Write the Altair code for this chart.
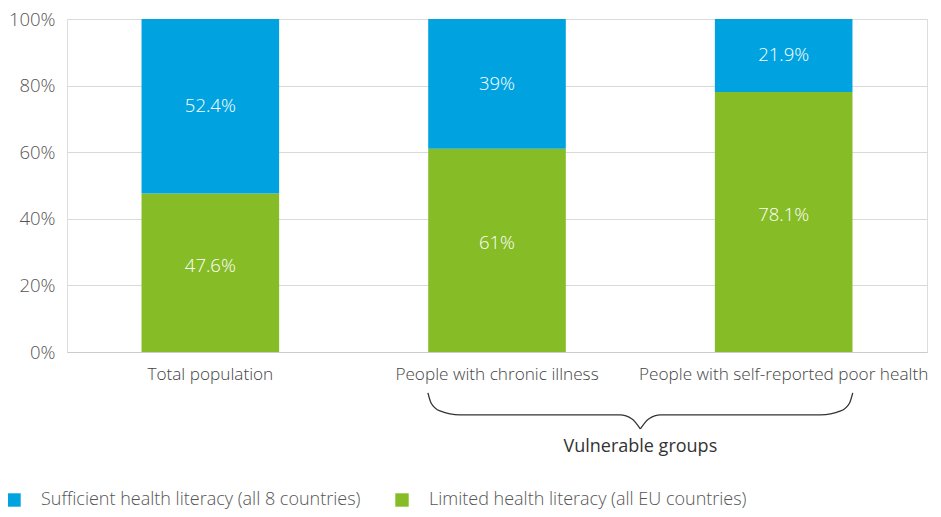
import altair as alt
import pandas as pd

categories = ["Total population", "People with chronic illness", "People with self-reported poor health"]
series = ["Sufficient health literacy (all 8 countries)", "Limited health literacy (all EU countries)"]
sufficient = [52.4, 39, 21.9]
limited = [47.6, 61, 78.1]
colors = ["#00A3E0", "#86BC25"]
y_ticks = [0, 20, 40, 60, 80, 100]

# brace annotation shape (x in category-index units, y in percent units)
brace_left_x = [1.259, 1.270, 1.301, 1.371, 1.929, 1.971, 2.0]
brace_y = [-12.3, -15.3, -17.7, -18.9, -18.9, -20.1, -23.1]
group_label = "Vulnerable groups"

rows = []
for i, c in enumerate(categories):
    rows.append({"cat": c, "series": series[1], "value": limited[i], "ord": 0})
    rows.append({"cat": c, "series": series[0], "value": sufficient[i], "ord": 1})
df = pd.DataFrame(rows)
df["label"] = df["value"].map(lambda v: f"{v:g}%")

brace_rows = []
for x, y in zip(brace_left_x, brace_y):
    brace_rows.append({"bx": x, "by": y, "side": "L"})
for x, y in zip(brace_left_x, brace_y):
    brace_rows.append({"bx": 4.0 - x, "by": y, "side": "R"})
brace_df = pd.DataFrame(brace_rows)
grp_df = pd.DataFrame({"bx": [2.0], "by": [-28.5], "t": [group_label]})

FONT = "Open Sans"
W = 300
xband = alt.X("cat:N", sort=categories,
              scale=alt.Scale(paddingInner=0.52, paddingOuter=0.26),
              axis=alt.Axis(title=None, labelAngle=0, labelFontSize=17.2, labelColor="#444",
                            labelFont=FONT, labelFontWeight=W, labelPadding=13, ticks=False,
                            domainColor="#cccccc", labelLimit=400))
yscale = alt.Scale(domain=[0, 100], nice=False)

bars = alt.Chart(df).mark_bar().encode(
    x=xband,
    y=alt.Y("value:Q", stack="zero", scale=yscale,
            axis=alt.Axis(title=None, values=y_ticks, labelExpr="datum.value + '%'",
                          labelFontSize=18.5, labelColor="#555", labelFont=FONT, labelFontWeight=W,
                          labelPadding=12, ticks=False, domain=False,
                          gridColor="#d9d9d9", gridWidth=1)),
    color=alt.Color("series:N", scale=alt.Scale(domain=series, range=colors),
                    legend=alt.Legend(title=None, orient="none", legendX=-62, legendY=472,
                                      direction="horizontal", columns=2, columnPadding=32,
                                      symbolType="square", symbolSize=180, symbolStrokeWidth=0,
                                      labelFontSize=18, labelColor="#555", labelFont=FONT,
                                      labelFontWeight=W, labelOffset=18, labelLimit=500)),
    order=alt.Order("ord:Q"),
)

def seg_text(name, dy):
    return alt.Chart(df).transform_stack(
        stack="value", groupby=["cat"], as_=["v0", "v1"], sort=[alt.SortField("ord")]
    ).transform_calculate(mid="(datum.v0 + datum.v1) / 2").transform_filter(
        alt.datum.series == name
    ).mark_text(color="white", fontSize=18.5, font=FONT, fontWeight=W, dy=dy, baseline="middle").encode(
        x=alt.X("cat:N", sort=categories), y=alt.Y("mid:Q", scale=yscale), text="label:N"
    )

main = alt.layer(bars, seg_text(series[0], 0), seg_text(series[1], -7))

bx = alt.X("bx:Q", scale=alt.Scale(domain=[0, 3], nice=False, zero=False), axis=None)
brace = alt.Chart(brace_df).mark_line(color="#333333", strokeWidth=1.3, interpolate="monotone").encode(
    x=bx, y=alt.Y("by:Q", scale=yscale), detail="side:N", order="bx:Q"
)
grp = alt.Chart(grp_df).mark_text(fontSize=18, font=FONT, color="#333333", baseline="middle").encode(
    x=bx, y=alt.Y("by:Q", scale=yscale), text="t:N"
)

chart = alt.layer(main, brace, grp).resolve_scale(x="independent").properties(
    width=860, height=333,
    padding={"left": 59, "top": 11, "right": 6, "bottom": 157},
    autosize=alt.AutoSizeParams(type="none"),
).configure_view(stroke=None).configure(font=FONT)

chart.save("out.html", embed_options={"renderer": "svg", "actions": False})
